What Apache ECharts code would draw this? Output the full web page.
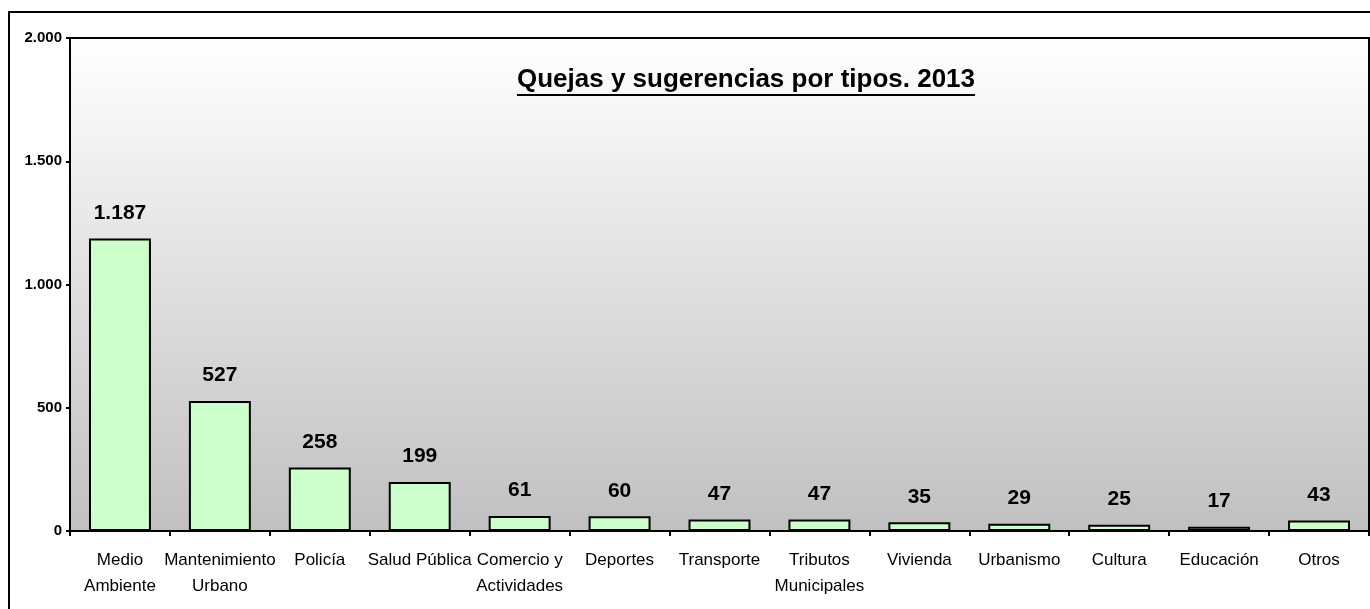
<!DOCTYPE html>
<html>
<head>
<meta charset="utf-8">
<script src="https://cdn.jsdelivr.net/npm/echarts@6/dist/echarts.min.js"></script>
<style>
  html, body { margin: 0; padding: 0; background: #fff; }
  #main { width: 1370px; height: 609px; }
</style>
</head>
<body>
<div id="main"></div>
<script>
var categories = ['Medio\nAmbiente', 'Mantenimiento\nUrbano', 'Policía', 'Salud Pública', 'Comercio y\nActividades',
    'Deportes', 'Transporte', 'Tributos\nMunicipales', 'Vivienda', 'Urbanismo', 'Cultura', 'Educación', 'Otros'];
var quejas = [1187, 527, 258, 199, 61, 60, 47, 47, 35, 29, 25, 17, 43];
var yTicks = [0, 500, 1000, 1500, 2000];
var titleText = 'Quejas y sugerencias por tipos. 2013';

var fontFamily = '"Liberation Sans", Arial, sans-serif';

// separador de miles con punto
function miles(v) {
    return String(v).replace(/\B(?=(\d{3})+(?!\d))/g, '.');
}

// ancho del título para el subrayado
var titleFont = 'bold 26px ' + fontFamily;
var ctx = document.createElement('canvas').getContext('2d');
ctx.font = titleFont;
var titleW = ctx.measureText(titleText).width;
var titleX = 746, titleY = 67;

var chart = echarts.init(document.getElementById('main'));
chart.setOption({
    animation: false,
    backgroundColor: '#fff',
    grid: {
        left: 70, right: 1, top: 38, bottom: 78,
        show: true,
        borderColor: '#000',
        borderWidth: 2,
        backgroundColor: new echarts.graphic.LinearGradient(0, 0, 0, 1, [
            { offset: 0, color: '#ffffff' },
            { offset: 1, color: '#c0c0c0' }
        ])
    },
    graphic: [
        {
            type: 'rect', silent: true, z: 0,
            shape: { x: 9, y: 12, width: 1380, height: 620 },
            style: { fill: null, stroke: '#000', lineWidth: 2 }
        },
        {
            type: 'text', z: 10,
            x: titleX, y: titleY,
            style: {
                text: titleText, fill: '#000',
                font: titleFont,
                textAlign: 'center', textVerticalAlign: 'top'
            }
        },
        {
            type: 'line', z: 10,
            shape: { x1: titleX - titleW / 2, y1: 95, x2: titleX + titleW / 2, y2: 95 },
            style: { stroke: '#000', lineWidth: 2 }
        }
    ],
    xAxis: {
        type: 'category',
        data: categories,
        axisLine: { lineStyle: { color: '#000', width: 2 } },
        axisTick: { show: true, length: 5, lineStyle: { color: '#000', width: 2 } },
        axisLabel: {
            color: '#000', fontSize: 17, fontFamily: fontFamily,
            lineHeight: 26, margin: 16, interval: 0
        }
    },
    yAxis: {
        type: 'value',
        min: yTicks[0], max: yTicks[yTicks.length - 1], interval: 500,
        splitLine: { show: false },
        axisLine: { show: true, lineStyle: { color: '#000', width: 2 } },
        axisTick: { show: true, length: 4, lineStyle: { color: '#000', width: 2 } },
        axisLabel: {
            color: '#000', fontSize: 15, fontWeight: 'bold', fontFamily: fontFamily,
            margin: 8,
            formatter: function(v) { return miles(v); }
        }
    },
    series: [{
        type: 'bar',
        data: quejas,
        barWidth: '62%',
        itemStyle: { color: '#ccffcc', borderColor: '#000', borderWidth: 2 },
        label: {
            show: true, position: 'top', distance: 15,
            color: '#000', fontSize: 21, fontWeight: 'bold', fontFamily: fontFamily,
            formatter: function(p) { return miles(p.value); }
        }
    }]
});
</script>
</body>
</html>
